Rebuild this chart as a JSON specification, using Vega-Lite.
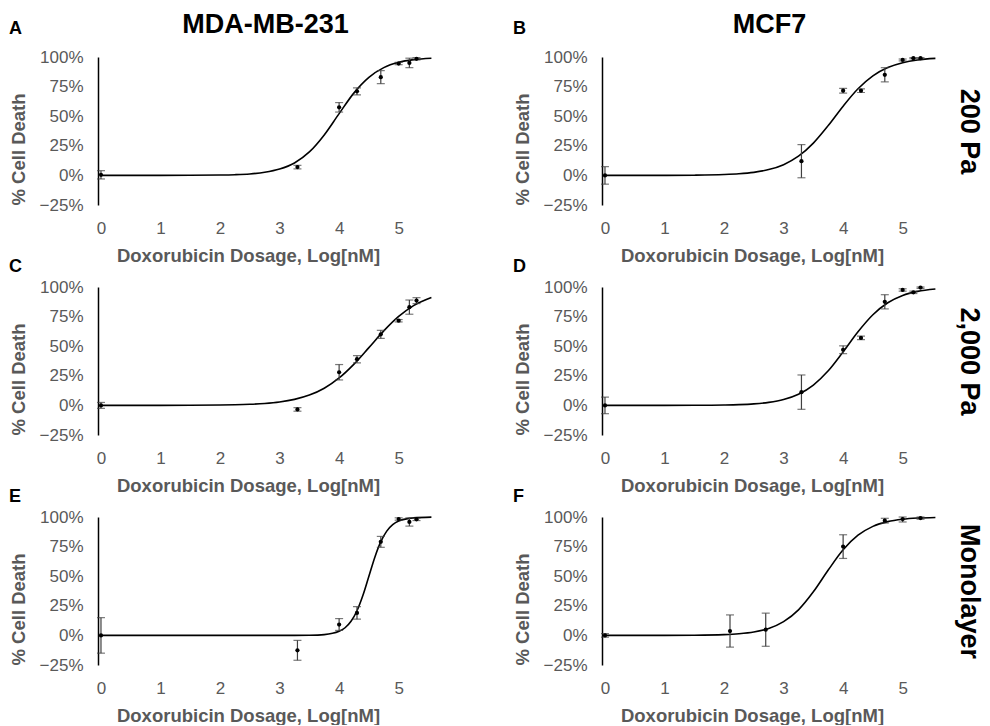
{
  "$schema": "https://vega.github.io/schema/vega-lite/v6.json",
  "padding": {"left": 9, "top": 10, "right": 8, "bottom": 0},
  "background": "white",
  "datasets": {
    "points": [
      {"panel": "A", "dose": 0, "death": 0.005, "lo": -0.03, "hi": 0.04},
      {"panel": "A", "dose": 3.3, "death": 0.07, "lo": 0.055, "hi": 0.085},
      {"panel": "A", "dose": 4.0, "death": 0.575, "lo": 0.535, "hi": 0.615},
      {"panel": "A", "dose": 4.3, "death": 0.71, "lo": 0.68, "hi": 0.74},
      {"panel": "A", "dose": 4.7, "death": 0.83, "lo": 0.775, "hi": 0.885},
      {"panel": "A", "dose": 5.0, "death": 0.945, "lo": 0.935, "hi": 0.955},
      {"panel": "A", "dose": 5.18, "death": 0.95, "lo": 0.91, "hi": 0.99},
      {"panel": "A", "dose": 5.3, "death": 0.985, "lo": 0.975, "hi": 0.995},
      {"panel": "B", "dose": 0, "death": 0.0, "lo": -0.074, "hi": 0.074},
      {"panel": "B", "dose": 3.3, "death": 0.12, "lo": -0.02, "hi": 0.26},
      {"panel": "B", "dose": 4.0, "death": 0.715, "lo": 0.695, "hi": 0.735},
      {"panel": "B", "dose": 4.3, "death": 0.715, "lo": 0.70, "hi": 0.73},
      {"panel": "B", "dose": 4.7, "death": 0.85, "lo": 0.79, "hi": 0.91},
      {"panel": "B", "dose": 5.0, "death": 0.975, "lo": 0.967, "hi": 0.983},
      {"panel": "B", "dose": 5.18, "death": 0.99, "lo": 0.985, "hi": 0.995},
      {"panel": "B", "dose": 5.3, "death": 0.99, "lo": 0.985, "hi": 0.995},
      {"panel": "C", "dose": 0, "death": 0.0, "lo": -0.025, "hi": 0.025},
      {"panel": "C", "dose": 3.3, "death": -0.034, "lo": -0.049, "hi": -0.019},
      {"panel": "C", "dose": 4.0, "death": 0.28, "lo": 0.215, "hi": 0.345},
      {"panel": "C", "dose": 4.3, "death": 0.39, "lo": 0.36, "hi": 0.42},
      {"panel": "C", "dose": 4.7, "death": 0.60, "lo": 0.566, "hi": 0.634},
      {"panel": "C", "dose": 5.0, "death": 0.715, "lo": 0.705, "hi": 0.725},
      {"panel": "C", "dose": 5.18, "death": 0.83, "lo": 0.77, "hi": 0.89},
      {"panel": "C", "dose": 5.3, "death": 0.885, "lo": 0.86, "hi": 0.91},
      {"panel": "D", "dose": 0, "death": 0.0, "lo": -0.07, "hi": 0.07},
      {"panel": "D", "dose": 3.3, "death": 0.112, "lo": -0.033, "hi": 0.257},
      {"panel": "D", "dose": 4.0, "death": 0.47, "lo": 0.437, "hi": 0.503},
      {"panel": "D", "dose": 4.3, "death": 0.57, "lo": 0.555, "hi": 0.585},
      {"panel": "D", "dose": 4.7, "death": 0.875, "lo": 0.815, "hi": 0.935},
      {"panel": "D", "dose": 5.0, "death": 0.975, "lo": 0.965, "hi": 0.985},
      {"panel": "D", "dose": 5.18, "death": 0.955, "lo": 0.945, "hi": 0.965},
      {"panel": "D", "dose": 5.3, "death": 0.995, "lo": 0.988, "hi": 1.0},
      {"panel": "E", "dose": 0, "death": 0.0, "lo": -0.15, "hi": 0.15},
      {"panel": "E", "dose": 3.3, "death": -0.126, "lo": -0.21, "hi": -0.042},
      {"panel": "E", "dose": 4.0, "death": 0.092, "lo": 0.042, "hi": 0.142},
      {"panel": "E", "dose": 4.3, "death": 0.19, "lo": 0.137, "hi": 0.243},
      {"panel": "E", "dose": 4.7, "death": 0.79, "lo": 0.744, "hi": 0.836},
      {"panel": "E", "dose": 5.0, "death": 0.983, "lo": 0.973, "hi": 0.993},
      {"panel": "E", "dose": 5.18, "death": 0.958, "lo": 0.923, "hi": 0.993},
      {"panel": "E", "dose": 5.3, "death": 0.98, "lo": 0.97, "hi": 0.99},
      {"panel": "F", "dose": 0, "death": 0.0, "lo": -0.015, "hi": 0.015},
      {"panel": "F", "dose": 2.1, "death": 0.037, "lo": -0.099, "hi": 0.173},
      {"panel": "F", "dose": 2.7, "death": 0.048, "lo": -0.092, "hi": 0.188},
      {"panel": "F", "dose": 4.0, "death": 0.75, "lo": 0.65, "hi": 0.85},
      {"panel": "F", "dose": 4.7, "death": 0.969, "lo": 0.949, "hi": 0.989},
      {"panel": "F", "dose": 5.0, "death": 0.983, "lo": 0.958, "hi": 1.0},
      {"panel": "F", "dose": 5.3, "death": 0.991, "lo": 0.981, "hi": 1.0}
    ],
    "curves": [
      {"panel": "A", "dose": 0, "death": 0}, {"panel": "A", "dose": 0.5, "death": 0.00003}, {"panel": "A", "dose": 1, "death": 0.0001}, {"panel": "A", "dose": 1.5, "death": 0.0007}, {"panel": "A", "dose": 2, "death": 0.0029}, {"panel": "A", "dose": 2.25, "death": 0.006}, {"panel": "A", "dose": 2.5, "death": 0.0124}, {"panel": "A", "dose": 2.75, "death": 0.026}, {"panel": "A", "dose": 3, "death": 0.0532}, {"panel": "A", "dose": 3.25, "death": 0.105}, {"panel": "A", "dose": 3.5, "death": 0.198}, {"panel": "A", "dose": 3.75, "death": 0.342}, {"panel": "A", "dose": 4, "death": 0.522}, {"panel": "A", "dose": 4.25, "death": 0.697}, {"panel": "A", "dose": 4.5, "death": 0.828}, {"panel": "A", "dose": 4.75, "death": 0.91}, {"panel": "A", "dose": 5, "death": 0.955}, {"panel": "A", "dose": 5.25, "death": 0.978}, {"panel": "A", "dose": 5.55, "death": 0.99},
      {"panel": "B", "dose": 0, "death": 0}, {"panel": "B", "dose": 0.5, "death": 0.0001}, {"panel": "B", "dose": 1, "death": 0.0005}, {"panel": "B", "dose": 1.5, "death": 0.0019}, {"panel": "B", "dose": 2, "death": 0.007}, {"panel": "B", "dose": 2.25, "death": 0.0135}, {"panel": "B", "dose": 2.5, "death": 0.0259}, {"panel": "B", "dose": 2.75, "death": 0.049}, {"panel": "B", "dose": 3, "death": 0.0908}, {"panel": "B", "dose": 3.25, "death": 0.162}, {"panel": "B", "dose": 3.5, "death": 0.273}, {"panel": "B", "dose": 3.75, "death": 0.421}, {"panel": "B", "dose": 4, "death": 0.585}, {"panel": "B", "dose": 4.25, "death": 0.732}, {"panel": "B", "dose": 4.5, "death": 0.841}, {"panel": "B", "dose": 4.75, "death": 0.911}, {"panel": "B", "dose": 5, "death": 0.952}, {"panel": "B", "dose": 5.25, "death": 0.975}, {"panel": "B", "dose": 5.55, "death": 0.988},
      {"panel": "C", "dose": 0, "death": 0}, {"panel": "C", "dose": 0.5, "death": 0.0001}, {"panel": "C", "dose": 1, "death": 0.0003}, {"panel": "C", "dose": 1.5, "death": 0.001}, {"panel": "C", "dose": 2, "death": 0.003}, {"panel": "C", "dose": 2.25, "death": 0.0053}, {"panel": "C", "dose": 2.5, "death": 0.0095}, {"panel": "C", "dose": 2.75, "death": 0.0167}, {"panel": "C", "dose": 3, "death": 0.0293}, {"panel": "C", "dose": 3.25, "death": 0.051}, {"panel": "C", "dose": 3.5, "death": 0.0871}, {"panel": "C", "dose": 3.75, "death": 0.145}, {"panel": "C", "dose": 4, "death": 0.232}, {"panel": "C", "dose": 4.25, "death": 0.349}, {"panel": "C", "dose": 4.5, "death": 0.488}, {"panel": "C", "dose": 4.75, "death": 0.629}, {"panel": "C", "dose": 5, "death": 0.751}, {"panel": "C", "dose": 5.25, "death": 0.843}, {"panel": "C", "dose": 5.55, "death": 0.912},
      {"panel": "D", "dose": 0, "death": 0}, {"panel": "D", "dose": 0.5, "death": 0.0001}, {"panel": "D", "dose": 1, "death": 0.0002}, {"panel": "D", "dose": 1.5, "death": 0.0008}, {"panel": "D", "dose": 2, "death": 0.0033}, {"panel": "D", "dose": 2.25, "death": 0.0065}, {"panel": "D", "dose": 2.5, "death": 0.0129}, {"panel": "D", "dose": 2.75, "death": 0.0254}, {"panel": "D", "dose": 3, "death": 0.0494}, {"panel": "D", "dose": 3.25, "death": 0.094}, {"panel": "D", "dose": 3.5, "death": 0.172}, {"panel": "D", "dose": 3.75, "death": 0.292}, {"panel": "D", "dose": 4, "death": 0.452}, {"panel": "D", "dose": 4.25, "death": 0.622}, {"panel": "D", "dose": 4.5, "death": 0.766}, {"panel": "D", "dose": 4.75, "death": 0.867}, {"panel": "D", "dose": 5, "death": 0.929}, {"panel": "D", "dose": 5.25, "death": 0.963}, {"panel": "D", "dose": 5.55, "death": 0.983},
      {"panel": "E", "dose": 0, "death": 0}, {"panel": "E", "dose": 1, "death": 0}, {"panel": "E", "dose": 2, "death": 0}, {"panel": "E", "dose": 2.5, "death": 0.00002}, {"panel": "E", "dose": 3, "death": 0.00005}, {"panel": "E", "dose": 3.25, "death": 0.0002}, {"panel": "E", "dose": 3.5, "death": 0.0013}, {"panel": "E", "dose": 3.75, "death": 0.0066}, {"panel": "E", "dose": 4, "death": 0.0343}, {"panel": "E", "dose": 4.1, "death": 0.0647}, {"panel": "E", "dose": 4.2, "death": 0.119}, {"panel": "E", "dose": 4.3, "death": 0.208}, {"panel": "E", "dose": 4.4, "death": 0.339}, {"panel": "E", "dose": 4.5, "death": 0.5}, {"panel": "E", "dose": 4.6, "death": 0.661}, {"panel": "E", "dose": 4.7, "death": 0.792}, {"panel": "E", "dose": 4.8, "death": 0.881}, {"panel": "E", "dose": 4.9, "death": 0.935}, {"panel": "E", "dose": 5, "death": 0.966}, {"panel": "E", "dose": 5.25, "death": 0.993}, {"panel": "E", "dose": 5.55, "death": 0.999},
      {"panel": "F", "dose": 0, "death": 0}, {"panel": "F", "dose": 0.5, "death": 0.0001}, {"panel": "F", "dose": 1, "death": 0.0003}, {"panel": "F", "dose": 1.5, "death": 0.0015}, {"panel": "F", "dose": 2, "death": 0.0065}, {"panel": "F", "dose": 2.25, "death": 0.0137}, {"panel": "F", "dose": 2.5, "death": 0.0284}, {"panel": "F", "dose": 2.75, "death": 0.0582}, {"panel": "F", "dose": 3, "death": 0.116}, {"panel": "F", "dose": 3.25, "death": 0.216}, {"panel": "F", "dose": 3.5, "death": 0.368}, {"panel": "F", "dose": 3.75, "death": 0.552}, {"panel": "F", "dose": 4, "death": 0.723}, {"panel": "F", "dose": 4.25, "death": 0.846}, {"panel": "F", "dose": 4.5, "death": 0.921}, {"panel": "F", "dose": 4.75, "death": 0.961}, {"panel": "F", "dose": 5, "death": 0.981}, {"panel": "F", "dose": 5.25, "death": 0.991}, {"panel": "F", "dose": 5.55, "death": 0.996}
    ]
  },
  "config": {
    "font": "Liberation Sans",
    "view": {"stroke": null},
    "axis": {
      "labelFont": "Liberation Sans", "labelFontSize": 17, "labelColor": "#595959",
      "titleFont": "Liberation Sans", "titleFontSize": 18.5, "titleFontWeight": "bold", "titleColor": "#595959",
      "ticks": false
    },
    "axisX": {"domain": false, "grid": false, "labelPadding": 15, "titlePadding": 10},
    "axisY": {"domain": true, "domainColor": "black", "domainWidth": 1.5, "grid": true, "gridColor": "#d9d9d9", "gridWidth": 1.3, "labelPadding": 15, "titlePadding": 11},
    "axisLeft": {"titleAnchor": "start"},
    "title": {"font": "Liberation Sans", "fontSize": 18, "fontWeight": "bold", "color": "black", "anchor": "start", "frame": "bounds", "offset": 2}
  },
  "spacing": -7,
  "vconcat": [
    {
      "spacing": 78,
      "hconcat": [
        {
          "width": 334, "height": 148,
          "title": {"text": "A", "dy": 30},
          "resolve": {"axis": {"x": "independent", "y": "independent"}},
          "layer": [
            {"mark": {"type": "rule", "color": "black", "strokeWidth": 1.5}, "encoding": {"y": {"datum": 0, "type": "quantitative", "axis": null}}},
            {"data": {"name": "curves"}, "transform": [{"filter": "datum.panel === 'A'"}], "mark": {"type": "line", "color": "black", "strokeWidth": 1.6, "interpolate": "monotone"},
             "encoding": {"x": {"field": "dose", "type": "quantitative", "scale": {"domain": [-0.05, 5.56], "nice": false, "zero": false}, "axis": {"values": [0, 1, 2, 3, 4, 5], "format": "d", "title": "Doxorubicin Dosage, Log[nM]", "titleX": 150}},
                          "y": {"field": "death", "type": "quantitative", "scale": {"domain": [-0.25, 1], "nice": false}, "axis": {"values": [-0.25, 0, 0.25, 0.5, 0.75, 1], "format": ".0%", "title": "% Cell Death"}}}},
            {"data": {"name": "points"}, "transform": [{"filter": "datum.panel === 'A'"}], "mark": {"type": "rule", "color": "#404040", "strokeWidth": 1.2},
             "encoding": {"x": {"field": "dose", "type": "quantitative", "axis": null}, "y": {"field": "lo", "type": "quantitative", "axis": null}, "y2": {"field": "hi"}}},
            {"data": {"name": "points"}, "transform": [{"filter": "datum.panel === 'A'"}], "mark": {"type": "tick", "orient": "horizontal", "color": "#404040", "size": 8, "thickness": 1.2},
             "encoding": {"x": {"field": "dose", "type": "quantitative", "axis": null}, "y": {"field": "lo", "type": "quantitative", "axis": null}}},
            {"data": {"name": "points"}, "transform": [{"filter": "datum.panel === 'A'"}], "mark": {"type": "tick", "orient": "horizontal", "color": "#404040", "size": 8, "thickness": 1.2},
             "encoding": {"x": {"field": "dose", "type": "quantitative", "axis": null}, "y": {"field": "hi", "type": "quantitative", "axis": null}}},
            {"data": {"name": "points"}, "transform": [{"filter": "datum.panel === 'A'"}], "mark": {"type": "point", "filled": true, "color": "black", "size": 18, "opacity": 1},
             "encoding": {"x": {"field": "dose", "type": "quantitative", "axis": {"orient": "top", "title": "MDA-MB-231", "labels": false, "domain": false, "ticks": false, "grid": false, "titleFontSize": 27, "titleColor": "black", "titlePadding": 19}},
                          "y": {"field": "death", "type": "quantitative", "axis": null}}}
          ]
        },
        {
          "width": 334, "height": 148,
          "title": {"text": "B", "dy": 30},
          "resolve": {"axis": {"x": "independent", "y": "independent"}},
          "layer": [
            {"mark": {"type": "rule", "color": "black", "strokeWidth": 1.5}, "encoding": {"y": {"datum": 0, "type": "quantitative", "axis": null}}},
            {"data": {"name": "curves"}, "transform": [{"filter": "datum.panel === 'B'"}], "mark": {"type": "line", "color": "black", "strokeWidth": 1.6, "interpolate": "monotone"},
             "encoding": {"x": {"field": "dose", "type": "quantitative", "scale": {"domain": [-0.05, 5.56], "nice": false, "zero": false}, "axis": {"values": [0, 1, 2, 3, 4, 5], "format": "d", "title": "Doxorubicin Dosage, Log[nM]", "titleX": 150}},
                          "y": {"field": "death", "type": "quantitative", "scale": {"domain": [-0.25, 1], "nice": false}, "axis": {"values": [-0.25, 0, 0.25, 0.5, 0.75, 1], "format": ".0%", "title": "% Cell Death"}}}},
            {"data": {"name": "points"}, "transform": [{"filter": "datum.panel === 'B'"}], "mark": {"type": "rule", "color": "#404040", "strokeWidth": 1.2},
             "encoding": {"x": {"field": "dose", "type": "quantitative", "axis": null}, "y": {"field": "lo", "type": "quantitative", "axis": null}, "y2": {"field": "hi"}}},
            {"data": {"name": "points"}, "transform": [{"filter": "datum.panel === 'B'"}], "mark": {"type": "tick", "orient": "horizontal", "color": "#404040", "size": 8, "thickness": 1.2},
             "encoding": {"x": {"field": "dose", "type": "quantitative", "axis": null}, "y": {"field": "lo", "type": "quantitative", "axis": null}}},
            {"data": {"name": "points"}, "transform": [{"filter": "datum.panel === 'B'"}], "mark": {"type": "tick", "orient": "horizontal", "color": "#404040", "size": 8, "thickness": 1.2},
             "encoding": {"x": {"field": "dose", "type": "quantitative", "axis": null}, "y": {"field": "hi", "type": "quantitative", "axis": null}}},
            {"data": {"name": "points"}, "transform": [{"filter": "datum.panel === 'B'"}], "mark": {"type": "point", "filled": true, "color": "black", "size": 18, "opacity": 1},
             "encoding": {"x": {"field": "dose", "type": "quantitative", "axis": {"orient": "top", "title": "MCF7", "labels": false, "domain": false, "ticks": false, "grid": false, "titleFontSize": 27, "titleColor": "black", "titlePadding": 19}},
                          "y": {"field": "death", "type": "quantitative", "axis": {"orient": "right", "title": "200 Pa", "labels": false, "domain": false, "ticks": false, "grid": false, "titleFontSize": 27, "titleColor": "black", "titlePadding": 18, "titleAngle": 90, "titleAnchor": "middle"}}}}
          ]
        }
      ]
    },
    {
      "spacing": 78,
      "hconcat": [
        {
          "width": 334, "height": 148,
          "title": {"text": "C"},
          "resolve": {"axis": {"x": "independent", "y": "independent"}},
          "layer": [
            {"mark": {"type": "rule", "color": "black", "strokeWidth": 1.5}, "encoding": {"y": {"datum": 0, "type": "quantitative", "axis": null}}},
            {"data": {"name": "curves"}, "transform": [{"filter": "datum.panel === 'C'"}], "mark": {"type": "line", "color": "black", "strokeWidth": 1.6, "interpolate": "monotone"},
             "encoding": {"x": {"field": "dose", "type": "quantitative", "scale": {"domain": [-0.05, 5.56], "nice": false, "zero": false}, "axis": {"values": [0, 1, 2, 3, 4, 5], "format": "d", "title": "Doxorubicin Dosage, Log[nM]", "titleX": 150}},
                          "y": {"field": "death", "type": "quantitative", "scale": {"domain": [-0.25, 1], "nice": false}, "axis": {"values": [-0.25, 0, 0.25, 0.5, 0.75, 1], "format": ".0%", "title": "% Cell Death"}}}},
            {"data": {"name": "points"}, "transform": [{"filter": "datum.panel === 'C'"}], "mark": {"type": "rule", "color": "#404040", "strokeWidth": 1.2},
             "encoding": {"x": {"field": "dose", "type": "quantitative", "axis": null}, "y": {"field": "lo", "type": "quantitative", "axis": null}, "y2": {"field": "hi"}}},
            {"data": {"name": "points"}, "transform": [{"filter": "datum.panel === 'C'"}], "mark": {"type": "tick", "orient": "horizontal", "color": "#404040", "size": 8, "thickness": 1.2},
             "encoding": {"x": {"field": "dose", "type": "quantitative", "axis": null}, "y": {"field": "lo", "type": "quantitative", "axis": null}}},
            {"data": {"name": "points"}, "transform": [{"filter": "datum.panel === 'C'"}], "mark": {"type": "tick", "orient": "horizontal", "color": "#404040", "size": 8, "thickness": 1.2},
             "encoding": {"x": {"field": "dose", "type": "quantitative", "axis": null}, "y": {"field": "hi", "type": "quantitative", "axis": null}}},
            {"data": {"name": "points"}, "transform": [{"filter": "datum.panel === 'C'"}], "mark": {"type": "point", "filled": true, "color": "black", "size": 18, "opacity": 1},
             "encoding": {"x": {"field": "dose", "type": "quantitative", "axis": null}, "y": {"field": "death", "type": "quantitative", "axis": null}}}
          ]
        },
        {
          "width": 334, "height": 148,
          "title": {"text": "D"},
          "resolve": {"axis": {"x": "independent", "y": "independent"}},
          "layer": [
            {"mark": {"type": "rule", "color": "black", "strokeWidth": 1.5}, "encoding": {"y": {"datum": 0, "type": "quantitative", "axis": null}}},
            {"data": {"name": "curves"}, "transform": [{"filter": "datum.panel === 'D'"}], "mark": {"type": "line", "color": "black", "strokeWidth": 1.6, "interpolate": "monotone"},
             "encoding": {"x": {"field": "dose", "type": "quantitative", "scale": {"domain": [-0.05, 5.56], "nice": false, "zero": false}, "axis": {"values": [0, 1, 2, 3, 4, 5], "format": "d", "title": "Doxorubicin Dosage, Log[nM]", "titleX": 150}},
                          "y": {"field": "death", "type": "quantitative", "scale": {"domain": [-0.25, 1], "nice": false}, "axis": {"values": [-0.25, 0, 0.25, 0.5, 0.75, 1], "format": ".0%", "title": "% Cell Death"}}}},
            {"data": {"name": "points"}, "transform": [{"filter": "datum.panel === 'D'"}], "mark": {"type": "rule", "color": "#404040", "strokeWidth": 1.2},
             "encoding": {"x": {"field": "dose", "type": "quantitative", "axis": null}, "y": {"field": "lo", "type": "quantitative", "axis": null}, "y2": {"field": "hi"}}},
            {"data": {"name": "points"}, "transform": [{"filter": "datum.panel === 'D'"}], "mark": {"type": "tick", "orient": "horizontal", "color": "#404040", "size": 8, "thickness": 1.2},
             "encoding": {"x": {"field": "dose", "type": "quantitative", "axis": null}, "y": {"field": "lo", "type": "quantitative", "axis": null}}},
            {"data": {"name": "points"}, "transform": [{"filter": "datum.panel === 'D'"}], "mark": {"type": "tick", "orient": "horizontal", "color": "#404040", "size": 8, "thickness": 1.2},
             "encoding": {"x": {"field": "dose", "type": "quantitative", "axis": null}, "y": {"field": "hi", "type": "quantitative", "axis": null}}},
            {"data": {"name": "points"}, "transform": [{"filter": "datum.panel === 'D'"}], "mark": {"type": "point", "filled": true, "color": "black", "size": 18, "opacity": 1},
             "encoding": {"x": {"field": "dose", "type": "quantitative", "axis": null},
                          "y": {"field": "death", "type": "quantitative", "axis": {"orient": "right", "title": "2,000 Pa", "labels": false, "domain": false, "ticks": false, "grid": false, "titleFontSize": 27, "titleColor": "black", "titlePadding": 18, "titleAngle": 90, "titleAnchor": "middle"}}}}
          ]
        }
      ]
    },
    {
      "spacing": 78,
      "hconcat": [
        {
          "width": 334, "height": 148,
          "title": {"text": "E"},
          "resolve": {"axis": {"x": "independent", "y": "independent"}},
          "layer": [
            {"mark": {"type": "rule", "color": "black", "strokeWidth": 1.5}, "encoding": {"y": {"datum": 0, "type": "quantitative", "axis": null}}},
            {"data": {"name": "curves"}, "transform": [{"filter": "datum.panel === 'E'"}], "mark": {"type": "line", "color": "black", "strokeWidth": 1.6, "interpolate": "monotone"},
             "encoding": {"x": {"field": "dose", "type": "quantitative", "scale": {"domain": [-0.05, 5.56], "nice": false, "zero": false}, "axis": {"values": [0, 1, 2, 3, 4, 5], "format": "d", "title": "Doxorubicin Dosage, Log[nM]", "titleX": 150}},
                          "y": {"field": "death", "type": "quantitative", "scale": {"domain": [-0.25, 1], "nice": false}, "axis": {"values": [-0.25, 0, 0.25, 0.5, 0.75, 1], "format": ".0%", "title": "% Cell Death"}}}},
            {"data": {"name": "points"}, "transform": [{"filter": "datum.panel === 'E'"}], "mark": {"type": "rule", "color": "#404040", "strokeWidth": 1.2},
             "encoding": {"x": {"field": "dose", "type": "quantitative", "axis": null}, "y": {"field": "lo", "type": "quantitative", "axis": null}, "y2": {"field": "hi"}}},
            {"data": {"name": "points"}, "transform": [{"filter": "datum.panel === 'E'"}], "mark": {"type": "tick", "orient": "horizontal", "color": "#404040", "size": 8, "thickness": 1.2},
             "encoding": {"x": {"field": "dose", "type": "quantitative", "axis": null}, "y": {"field": "lo", "type": "quantitative", "axis": null}}},
            {"data": {"name": "points"}, "transform": [{"filter": "datum.panel === 'E'"}], "mark": {"type": "tick", "orient": "horizontal", "color": "#404040", "size": 8, "thickness": 1.2},
             "encoding": {"x": {"field": "dose", "type": "quantitative", "axis": null}, "y": {"field": "hi", "type": "quantitative", "axis": null}}},
            {"data": {"name": "points"}, "transform": [{"filter": "datum.panel === 'E'"}], "mark": {"type": "point", "filled": true, "color": "black", "size": 18, "opacity": 1},
             "encoding": {"x": {"field": "dose", "type": "quantitative", "axis": null}, "y": {"field": "death", "type": "quantitative", "axis": null}}}
          ]
        },
        {
          "width": 334, "height": 148,
          "title": {"text": "F"},
          "resolve": {"axis": {"x": "independent", "y": "independent"}},
          "layer": [
            {"mark": {"type": "rule", "color": "black", "strokeWidth": 1.5}, "encoding": {"y": {"datum": 0, "type": "quantitative", "axis": null}}},
            {"data": {"name": "curves"}, "transform": [{"filter": "datum.panel === 'F'"}], "mark": {"type": "line", "color": "black", "strokeWidth": 1.6, "interpolate": "monotone"},
             "encoding": {"x": {"field": "dose", "type": "quantitative", "scale": {"domain": [-0.05, 5.56], "nice": false, "zero": false}, "axis": {"values": [0, 1, 2, 3, 4, 5], "format": "d", "title": "Doxorubicin Dosage, Log[nM]", "titleX": 150}},
                          "y": {"field": "death", "type": "quantitative", "scale": {"domain": [-0.25, 1], "nice": false}, "axis": {"values": [-0.25, 0, 0.25, 0.5, 0.75, 1], "format": ".0%", "title": "% Cell Death"}}}},
            {"data": {"name": "points"}, "transform": [{"filter": "datum.panel === 'F'"}], "mark": {"type": "rule", "color": "#404040", "strokeWidth": 1.2},
             "encoding": {"x": {"field": "dose", "type": "quantitative", "axis": null}, "y": {"field": "lo", "type": "quantitative", "axis": null}, "y2": {"field": "hi"}}},
            {"data": {"name": "points"}, "transform": [{"filter": "datum.panel === 'F'"}], "mark": {"type": "tick", "orient": "horizontal", "color": "#404040", "size": 8, "thickness": 1.2},
             "encoding": {"x": {"field": "dose", "type": "quantitative", "axis": null}, "y": {"field": "lo", "type": "quantitative", "axis": null}}},
            {"data": {"name": "points"}, "transform": [{"filter": "datum.panel === 'F'"}], "mark": {"type": "tick", "orient": "horizontal", "color": "#404040", "size": 8, "thickness": 1.2},
             "encoding": {"x": {"field": "dose", "type": "quantitative", "axis": null}, "y": {"field": "hi", "type": "quantitative", "axis": null}}},
            {"data": {"name": "points"}, "transform": [{"filter": "datum.panel === 'F'"}], "mark": {"type": "point", "filled": true, "color": "black", "size": 18, "opacity": 1},
             "encoding": {"x": {"field": "dose", "type": "quantitative", "axis": null},
                          "y": {"field": "death", "type": "quantitative", "axis": {"orient": "right", "title": "Monolayer", "labels": false, "domain": false, "ticks": false, "grid": false, "titleFontSize": 27, "titleColor": "black", "titlePadding": 18, "titleAngle": 90, "titleAnchor": "middle"}}}}
          ]
        }
      ]
    }
  ]
}
